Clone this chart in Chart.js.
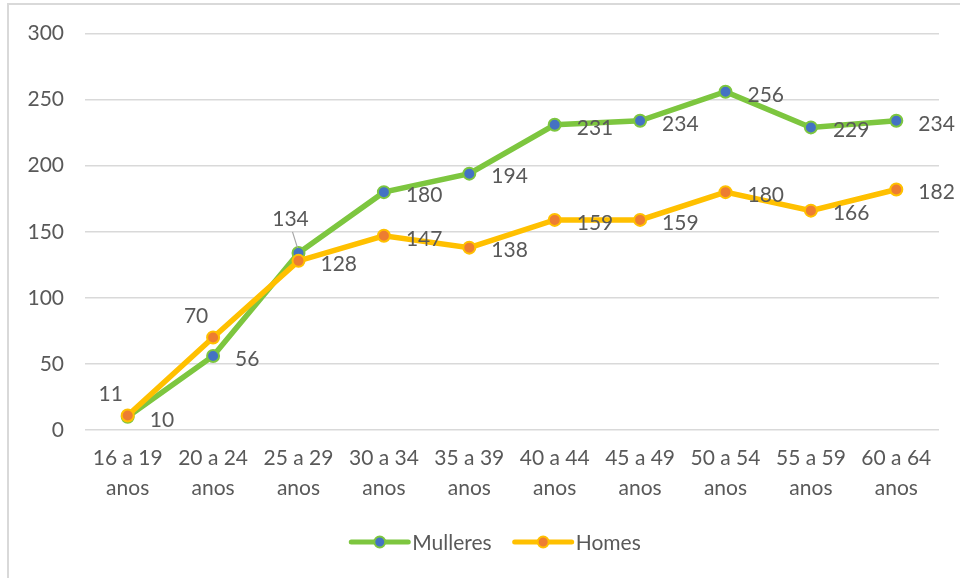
<!DOCTYPE html>
<html>
<head>
<meta charset="utf-8">
<script src="https://cdn.jsdelivr.net/npm/chart.js@4/dist/chart.umd.min.js"></script>
<style>
  html, body { margin: 0; padding: 0; background: #fff; }
  #wrap { position: relative; width: 960px; height: 578px; }
</style>
</head>
<body>
<div id="wrap"><canvas id="chart" width="960" height="578"></canvas></div>
<script>
// Data
const categories = [
  ['16 a 19', 'anos'], ['20 a 24', 'anos'], ['25 a 29', 'anos'], ['30 a 34', 'anos'],
  ['35 a 39', 'anos'], ['40 a 44', 'anos'], ['45 a 49', 'anos'], ['50 a 54', 'anos'],
  ['55 a 59', 'anos'], ['60 a 64', 'anos']
];
const mulleres = [10, 56, 134, 180, 194, 231, 234, 256, 229, 234];
const homes = [11, 70, 128, 147, 138, 159, 159, 180, 166, 182];
const yTicks = [0, 50, 100, 150, 200, 250, 300];

// where each data label sits relative to its point
const mulleresLabelSide = ['right', 'right', 'leader', 'right', 'right', 'right', 'right', 'right', 'right', 'right'];
const homesLabelSide = ['aboveLeft', 'aboveLeft', 'right', 'right', 'right', 'right', 'right', 'right', 'right', 'right'];

const TEXT = '#595959';
const GRID = '#d9d9d9';
const GREEN = '#7DC63F';
const YELLOW = '#FFC000';
const BLUE = '#4472C4';
const ORANGE = '#ED7D31';
const FONT = 'Lato, "Open Sans", sans-serif';

const framePlugin = {
  id: 'frame',
  beforeDraw(chart) {
    const ctx = chart.ctx;
    ctx.save();
    ctx.fillStyle = '#fff';
    ctx.fillRect(0, 0, chart.width, chart.height);
    ctx.strokeStyle = GRID;
    ctx.lineWidth = 2;
    ctx.beginPath();
    ctx.moveTo(8, chart.height);
    ctx.lineTo(8, 4);
    ctx.lineTo(chart.width, 4);
    ctx.stroke();
    ctx.restore();
  }
};

const labelPlugin = {
  id: 'valueLabels',
  afterDatasetsDraw(chart) {
    const ctx = chart.ctx;
    ctx.save();
    ctx.font = '21px ' + FONT;
    ctx.fillStyle = TEXT;
    chart.data.datasets.forEach((ds, di) => {
      const meta = chart.getDatasetMeta(di);
      meta.data.forEach((pt, i) => {
        const txt = String(ds.data[i]);
        const side = ds.labelSide[i];
        if (side === 'right') {
          ctx.textAlign = 'left';
          ctx.textBaseline = 'middle';
          ctx.fillText(txt, pt.x + 22, pt.y + 3);
        } else if (side === 'aboveLeft') {
          ctx.textAlign = 'center';
          ctx.textBaseline = 'middle';
          ctx.fillText(txt, pt.x - 17, pt.y - 21);
        } else if (side === 'leader') {
          ctx.textAlign = 'center';
          ctx.textBaseline = 'middle';
          ctx.fillText(txt, pt.x - 8, pt.y - 34);
          ctx.strokeStyle = '#a6a6a6';
          ctx.lineWidth = 1.2;
          ctx.beginPath();
          ctx.moveTo(pt.x - 6, pt.y - 21);
          ctx.lineTo(pt.x - 1, pt.y - 5);
          ctx.stroke();
        }
      });
    });
    ctx.restore();
  }
};

const legendPlugin = {
  id: 'bottomLegend',
  afterDraw(chart) {
    const ctx = chart.ctx;
    ctx.save();
    ctx.font = '21px ' + FONT;
    const items = chart.data.datasets.slice().sort((a, b) => a.legendIndex - b.legendIndex);
    const lineW = 57, gap = 4, spacing = 23;
    let total = 0;
    items.forEach((ds, k) => {
      total += lineW + gap + ctx.measureText(ds.label).width + (k ? spacing : 0);
    });
    let x = 496 - total / 2;
    const y = 542;
    items.forEach((ds) => {
      ctx.strokeStyle = ds.borderColor;
      ctx.lineWidth = 5;
      ctx.lineCap = 'round';
      ctx.beginPath();
      ctx.moveTo(x, y);
      ctx.lineTo(x + lineW, y);
      ctx.stroke();
      ctx.beginPath();
      ctx.arc(x + lineW / 2, y, 5.5, 0, Math.PI * 2);
      ctx.fillStyle = ds.pointBackgroundColor;
      ctx.fill();
      ctx.lineWidth = 2;
      ctx.strokeStyle = ds.pointBorderColor;
      ctx.stroke();
      ctx.fillStyle = TEXT;
      ctx.textAlign = 'left';
      ctx.textBaseline = 'middle';
      ctx.fillText(ds.label, x + lineW + gap, y + 1);
      x += lineW + gap + ctx.measureText(ds.label).width + spacing;
    });
    ctx.restore();
  }
};

const ctx = document.getElementById('chart').getContext('2d');
new Chart(ctx, {
  type: 'line',
  data: {
    labels: categories,
    datasets: [
      {
        label: 'Mulleres',
        data: mulleres,
        labelSide: mulleresLabelSide,
        legendIndex: 0,
        order: 1,
        borderColor: GREEN,
        borderWidth: 5.5,
        pointBackgroundColor: BLUE,
        pointBorderColor: GREEN,
        pointBorderWidth: 2,
        pointRadius: 6,
        tension: 0
      },
      {
        label: 'Homes',
        data: homes,
        labelSide: homesLabelSide,
        legendIndex: 1,
        order: 0,
        borderColor: YELLOW,
        borderWidth: 5.5,
        pointBackgroundColor: ORANGE,
        pointBorderColor: YELLOW,
        pointBorderWidth: 2,
        pointRadius: 6,
        tension: 0
      }
    ]
  },
  options: {
    responsive: false,
    animation: false,
    layout: { padding: { left: 8, top: 33, right: 21, bottom: 0 } },
    plugins: {
      legend: { display: false },
      tooltip: { enabled: false }
    },
    scales: {
      x: {
        offset: true,
        grid: { display: false },
        border: { display: false },
        ticks: {
          color: TEXT,
          font: { family: FONT, size: 21, lineHeight: 1.45 },
          padding: 5,
          maxRotation: 0,
          autoSkip: false
        },
        afterFit(scale) { scale.height = 148; }
      },
      y: {
        min: 0,
        max: 300,
        afterBuildTicks(scale) { scale.ticks = yTicks.map(v => ({ value: v })); },
        grid: { color: GRID, lineWidth: 1.5, drawTicks: false },
        border: { display: false },
        ticks: {
          color: TEXT,
          font: { family: FONT, size: 21 },
          padding: 21
        },
        afterFit(scale) { scale.width = 77; }
      }
    }
  },
  plugins: [framePlugin, labelPlugin, legendPlugin]
});
</script>
</body>
</html>
